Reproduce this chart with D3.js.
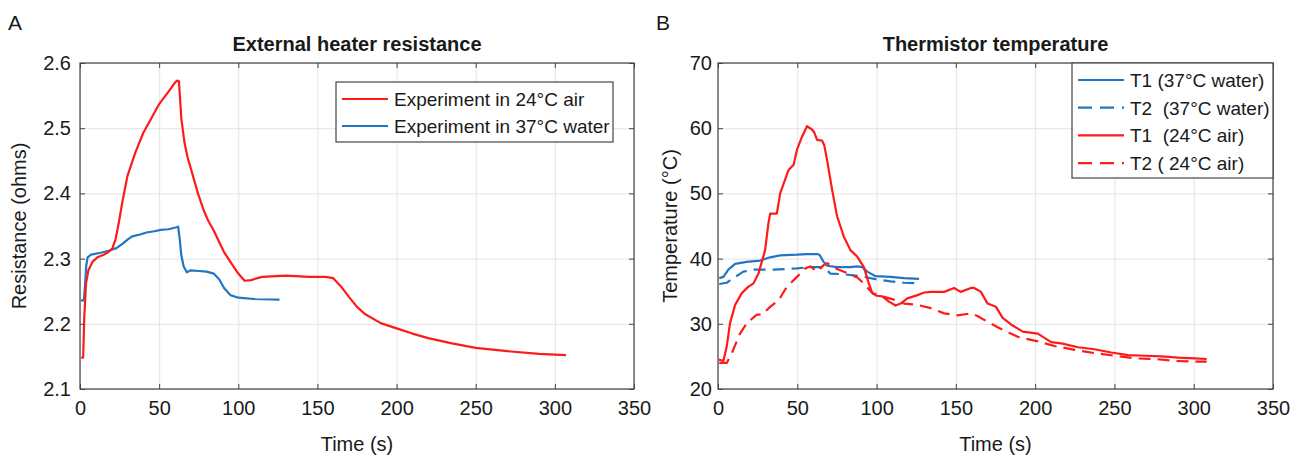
<!DOCTYPE html>
<html>
<head>
<meta charset="utf-8">
<script src="https://cdn.jsdelivr.net/npm/d3@7"></script>
<style>
    body { margin: 0; background: #fff; }
    text { font-family: "Liberation Sans", Arial, sans-serif; fill: #1a1a1a; }
</style>
</head>
<body>
<div id="chart"></div>
<script>
"use strict"

/* Canvas size */
let svgWidth = 1301;
let svgHeight = 462;

/* Panel A : external heater resistance (ohms) against time (s) */
let airTime = [0.8, 2, 2.7, 3.8, 5.3, 7.9, 11, 15, 18, 20.5, 22.5, 24.5, 27, 30, 35, 40, 45, 50, 55, 58,
    60, 61.5, 62.5, 64, 66, 68, 71, 74.5, 78, 81, 84.5, 88, 91, 95, 100, 104, 108, 115, 130, 145,
    150, 155, 160, 165, 170, 175, 180, 190, 200, 210, 220, 235, 250, 270, 290, 307];
let airRes = [2.148, 2.148, 2.21, 2.262, 2.282, 2.295, 2.302, 2.306, 2.31, 2.316, 2.33, 2.355, 2.39, 2.427, 2.463, 2.493, 2.515, 2.537, 2.553, 2.563,
    2.57, 2.573, 2.572, 2.515, 2.478, 2.455, 2.43, 2.4, 2.375, 2.358, 2.343, 2.325, 2.31, 2.295, 2.277, 2.266, 2.267, 2.272, 2.274, 2.272,
    2.272, 2.272, 2.27, 2.257, 2.241, 2.226, 2.215, 2.201, 2.193, 2.185, 2.178, 2.17, 2.163, 2.158, 2.154, 2.152];

let waterTime = [0.5, 2.5, 3.2, 4, 4.8, 7, 13, 18, 23, 27, 30, 33, 38, 42, 47, 51, 56, 61, 62, 63,
    64, 65.5, 67.5, 70, 75, 80, 84.5, 88, 91, 95, 100, 110, 126];
let waterRes = [2.236, 2.236, 2.26, 2.29, 2.302, 2.306, 2.309, 2.312, 2.316, 2.323, 2.329, 2.334, 2.337, 2.34, 2.342, 2.344, 2.345, 2.348, 2.349, 2.33,
    2.305, 2.288, 2.279, 2.282, 2.281, 2.28, 2.277, 2.268, 2.255, 2.244, 2.24, 2.238, 2.237];

/* Panel B : thermistor temperature (°C) against time (s) */
let t1WaterTime = [0.8, 3.4, 6.5, 10.8, 18, 26.6, 32.9, 39.2, 49.8, 56, 62.5, 64, 66.6, 68.8, 75, 83.5, 87.8, 91, 94.1, 99.4, 108.9, 117.3, 126.8];
let t1WaterTemp = [37.0, 37.2, 38.3, 39.2, 39.5, 39.7, 40.2, 40.5, 40.6, 40.7, 40.7, 40.6, 39.5, 38.9, 38.7, 38.7, 38.8, 38.7, 38.0, 37.3, 37.2, 37.0, 36.9];

let t2WaterTime = [0.8, 5.5, 9.7, 16, 22.4, 35, 49.8, 58.2, 66.6, 70.9, 79.3, 89.9, 100.4, 108.9, 117.3, 126.8];
let t2WaterTemp = [36.1, 36.3, 37.0, 38.0, 38.3, 38.3, 38.5, 38.7, 38.7, 37.7, 37.6, 37.3, 36.8, 36.5, 36.3, 36.2];

let t1AirTime = [0.5, 3.4, 5.5, 7.6, 10.8, 15, 19.2, 22.4, 25.5, 27.6, 29.7, 31.8, 32.9, 37.1, 39.2, 44.5, 47.7, 49.8, 53, 56.1,
    59.3, 60.8, 62.5, 65.6, 67, 68.8, 72, 75.1, 79.3, 83.5, 87.8, 92, 95.1, 97.3, 100, 103.6, 107.8, 112, 115.2, 119.4,
    125.8, 130, 134.2, 142.6, 148.9, 153, 159.5, 161.6, 165.8, 170, 175.3, 179.5, 184.8, 192.2, 201.7, 210.1, 216.5, 227, 237.5, 248,
    258.7, 269.2, 279.7, 290.3, 300.8, 308.2];
let t1AirTemp = [24.5, 24.3, 26.5, 30.1, 32.9, 34.7, 35.7, 36.2, 37.7, 39.5, 41.3, 45.4, 46.9, 46.9, 50.0, 53.6, 54.4, 56.7, 58.7, 60.3,
    59.8, 59.3, 58.2, 58.1, 57.4, 55.1, 50.5, 46.5, 43.4, 41.3, 40.3, 38.7, 36.2, 34.7, 34.3, 34.2, 33.4, 32.8, 33.1, 33.9,
    34.4, 34.8, 34.9, 34.9, 35.5, 34.9, 35.5, 35.5, 34.9, 33.1, 32.6, 30.9, 29.9, 28.8, 28.5, 27.2, 27.0, 26.4, 26.1, 25.6,
    25.2, 25.1, 25.0, 24.8, 24.7, 24.6];

let t2AirTime = [0.8, 5.5, 8.7, 13.9, 18.2, 24.5, 27.6, 32.9, 38.2, 43.5, 49.8, 55.1, 58.2, 62.5, 66.6, 68.8, 75.1, 81.4, 87.8, 92,
    97.3, 103.6, 111, 117.3, 125.8, 134.2, 142.6, 151.1, 159.5, 163.6, 170, 178.5, 189.1, 201.7, 212.2, 224.9, 237.5, 250.2, 262.8, 275.5,
    288.1, 300.8, 308.2];
let t2AirTemp = [24.0, 24.0, 25.5, 28.5, 30.1, 31.4, 31.4, 32.6, 33.6, 35.7, 37.2, 38.5, 38.8, 38.0, 39.0, 39.3, 38.4, 37.8, 37.1, 36.2,
    34.7, 34.2, 33.7, 33.1, 32.9, 32.4, 31.6, 31.3, 31.6, 31.2, 30.3, 29.2, 28.0, 27.3, 26.6, 26.0, 25.5, 25.1, 24.7, 24.6,
    24.3, 24.2, 24.2];

/* Tick values */
let timeTicks = [0, 50, 100, 150, 200, 250, 300, 350];
let resTicks = [2.1, 2.2, 2.3, 2.4, 2.5, 2.6];
let tempTicks = [20, 30, 40, 50, 60, 70];

/* Colours (MATLAB defaults) */
let red = "#ff1a1a";
let blue = "#1f77c4";

let svg = d3.select("#chart")
    .append("svg")
    .attr("width", svgWidth)
    .attr("height", svgHeight);

/* Builds one set of axes with grid, box and inward ticks, returns the scales */
function makePanel(p) {
    let xScale = d3.scaleLinear().domain([0, 350]).range([p.left, p.right]);
    let yScale = d3.scaleLinear().domain(p.yDomain).range([p.bottom, p.top]);
    let w = p.right - p.left;
    let h = p.bottom - p.top;

    /* grid */
    svg.append("g")
        .attr("transform", "translate(0," + p.bottom + ")")
        .call(d3.axisBottom(xScale).tickValues(timeTicks).tickSize(-h).tickFormat(""))
        .call(g => g.select(".domain").remove())
        .call(g => g.selectAll("line").attr("stroke", "#e3e3e3"));
    svg.append("g")
        .attr("transform", "translate(" + p.left + ",0)")
        .call(d3.axisLeft(yScale).tickValues(p.yTicks).tickSize(-w).tickFormat(""))
        .call(g => g.select(".domain").remove())
        .call(g => g.selectAll("line").attr("stroke", "#e3e3e3"));

    /* box */
    svg.append("rect")
        .attr("x", p.left)
        .attr("y", p.top)
        .attr("width", w)
        .attr("height", h)
        .attr("fill", "none")
        .attr("stroke", "#444")
        .attr("stroke-width", 1.2);

    /* labelled axes, ticks pointing inward */
    let xAxis = svg.append("g")
        .attr("transform", "translate(0," + p.bottom + ")")
        .call(d3.axisBottom(xScale).tickValues(timeTicks).tickSize(-5).tickSizeOuter(0).tickPadding(12));
    let yAxis = svg.append("g")
        .attr("transform", "translate(" + p.left + ",0)")
        .call(d3.axisLeft(yScale).tickValues(p.yTicks).tickSize(-5).tickSizeOuter(0).tickPadding(p.yPad).tickFormat(p.yFormat));
    svg.append("g")
        .attr("transform", "translate(0," + p.top + ")")
        .call(d3.axisTop(xScale).tickValues(timeTicks).tickSize(-5).tickSizeOuter(0).tickFormat(""));
    svg.append("g")
        .attr("transform", "translate(" + p.right + ",0)")
        .call(d3.axisRight(yScale).tickValues(p.yTicks).tickSize(-5).tickSizeOuter(0).tickFormat(""));

    svg.selectAll(".domain").attr("stroke", "none");
    svg.selectAll(".tick line").filter(function () { return !d3.select(this).attr("stroke") || d3.select(this).attr("stroke") === "currentColor"; })
        .attr("stroke", "#444");
    [xAxis, yAxis].forEach(function (a) {
        a.selectAll("text")
            .style("font-family", "\"Liberation Sans\", Arial, sans-serif")
            .style("font-size", "20px")
            .attr("fill", "#1a1a1a");
    });

    /* title and axis labels */
    svg.append("text")
        .attr("x", (p.left + p.right) / 2)
        .attr("y", 51)
        .style("text-anchor", "middle")
        .style("font-size", "20px")
        .style("font-weight", "bold")
        .text(p.title);

    svg.append("text")
        .attr("x", (p.left + p.right) / 2)
        .attr("y", 451)
        .style("text-anchor", "middle")
        .style("font-size", "20px")
        .text("Time (s)");

    svg.append("text")
        .attr("transform", "translate(" + p.yLabelX + "," + (p.top + p.bottom) / 2 + ") rotate(-90)")
        .style("text-anchor", "middle")
        .style("font-size", "20px")
        .text(p.yLabel);

    svg.append("text")
        .attr("x", p.letterX)
        .attr("y", 30)
        .style("font-size", "21px")
        .text(p.letter);

    return { x: xScale, y: yScale };
}

function drawSeries(sc, times, values, colour, dashed) {
    let points = times.map(function (t, i) { return [t, values[i]]; });
    let line = d3.line()
        .x(function (d) { return sc.x(d[0]); })
        .y(function (d) { return sc.y(d[1]); });
    svg.append("path")
        .datum(points)
        .attr("d", line)
        .attr("fill", "none")
        .attr("stroke", colour)
        .attr("stroke-width", 2.2)
        .attr("stroke-linejoin", "round")
        .attr("stroke-dasharray", dashed ? "12,7" : null);
}

function drawLegend(box, entries) {
    svg.append("rect")
        .attr("x", box.x)
        .attr("y", box.y)
        .attr("width", box.w)
        .attr("height", box.h)
        .attr("fill", "white")
        .attr("stroke", "#444")
        .attr("stroke-width", 1.2);
    entries.forEach(function (e, i) {
        let yy = box.firstY + i * box.step;
        svg.append("line")
            .attr("x1", box.x + 6)
            .attr("x2", box.x + 52)
            .attr("y1", yy)
            .attr("y2", yy)
            .attr("stroke", e.colour)
            .attr("stroke-width", 2.2)
            .attr("stroke-dasharray", e.dashed ? "14,8" : null);
        svg.append("text")
            .attr("x", box.x + 58)
            .attr("y", yy)
            .attr("dy", "0.36em")
            .style("font-size", "19px")
            .style("white-space", "pre")
            .text(e.label);
    });
}

/* Panel A */
let scA = makePanel({
    left: 80, right: 634, top: 63, bottom: 389,
    yDomain: [2.1, 2.6], yTicks: resTicks, yFormat: d3.format(".1f"), yPad: 9,
    title: "External heater resistance", yLabel: "Resistance (ohms)", yLabelX: 26,
    letter: "A", letterX: 8
});
drawSeries(scA, waterTime, waterRes, blue, false);
drawSeries(scA, airTime, airRes, red, false);
drawLegend({ x: 336, y: 82, w: 277, h: 60, firstY: 99, step: 27 }, [
    { label: "Experiment in 24°C air", colour: red, dashed: false },
    { label: "Experiment in 37°C water", colour: blue, dashed: false }
]);

/* Panel B */
let scB = makePanel({
    left: 718, right: 1273, top: 63, bottom: 389,
    yDomain: [20, 70], yTicks: tempTicks, yFormat: d3.format("d"), yPad: 6,
    title: "Thermistor temperature", yLabel: "Temperature (°C)", yLabelX: 677,
    letter: "B", letterX: 656
});
drawSeries(scB, t1WaterTime, t1WaterTemp, blue, false);
drawSeries(scB, t2WaterTime, t2WaterTemp, blue, true);
drawSeries(scB, t1AirTime, t1AirTemp, red, false);
drawSeries(scB, t2AirTime, t2AirTemp, red, true);
drawLegend({ x: 1072, y: 63, w: 201, h: 115, firstY: 80, step: 27.7 }, [
    { label: "T1 (37°C water)", colour: blue, dashed: false },
    { label: "T2  (37°C water)", colour: blue, dashed: true },
    { label: "T1  (24°C air)", colour: red, dashed: false },
    { label: "T2 ( 24°C air)", colour: red, dashed: true }
]);
</script>
</body>
</html>
